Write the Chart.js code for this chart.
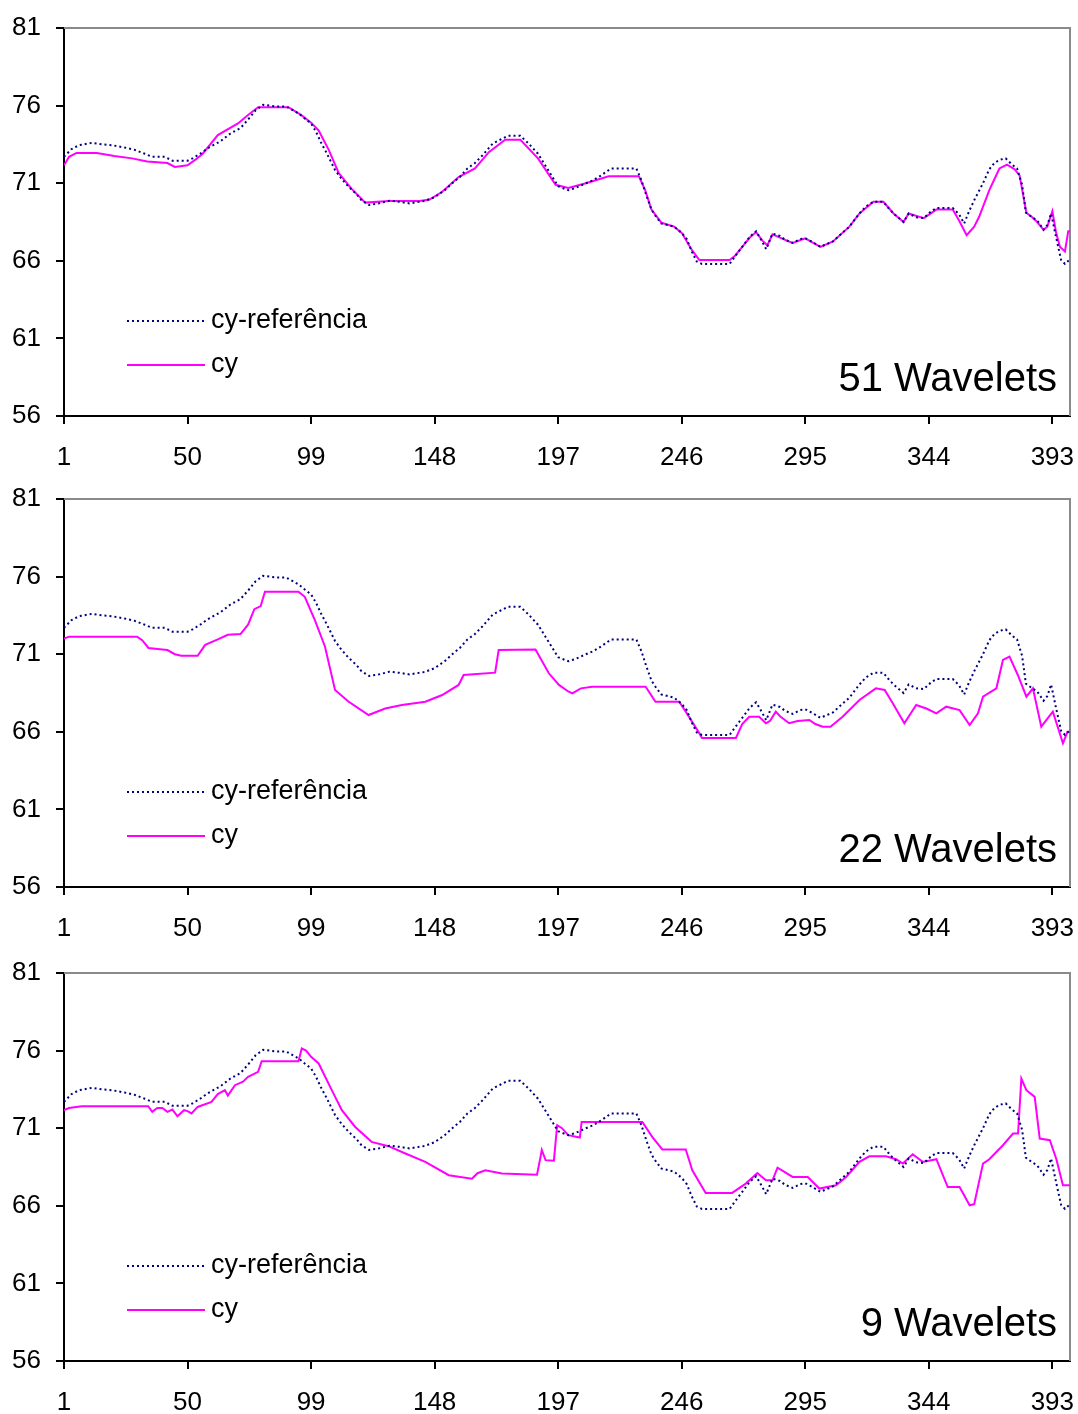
<!DOCTYPE html>
<html><head><meta charset="utf-8">
<script src="https://cdn.jsdelivr.net/npm/chart.js@4.4.1/dist/chart.umd.min.js"></script>
<style>
html,body{margin:0;padding:0;background:#fff;}
body{width:1078px;height:1414px;position:relative;overflow:hidden;}
.panel{position:absolute;left:0;width:1078px;height:469px;}
</style></head><body>
<div class="panel" style="top:0"><canvas id="c1" width="1078" height="469"></canvas></div>
<div class="panel" style="top:471px"><canvas id="c2" width="1078" height="469"></canvas></div>
<div class="panel" style="top:945px"><canvas id="c3" width="1078" height="469"></canvas></div>
<script>
// ---- data ----
const xTicks = [1, 50, 99, 148, 197, 246, 295, 344, 393];
const yTicks = [56, 61, 66, 71, 76, 81];
const seriesNames = ["cy-referência", "cy"];
const panelTitles = ["51 Wavelets", "22 Wavelets", "9 Wavelets"];

const refX = [1,4,7,12,16,20,25,29,33,36,41,44,50,52,55,58,63,67,71,74,77,80,85,89,94,97,99,101,103,105,108.5,111,114,117,119,122,126,130,134,138,144,148,152,155,158,161,164,167,171,174,177,182,185,189,193,197,201,204,208,211,214,218,228,230,232,234,236,238,243,246,248,250,252,254,265,267,270,273,275.5,277,279.5,282,285,287,290,293,295,298,301,306,309,312.5,316.5,319,322,326,328,330,334,336,339,342,345,347,353.5,356,358,360,362,365.5,368,370,372,374.5,377,379,381,382.5,385,387,389.5,391,392.5,394.5,396.5,398,400];
const refY = [72.7,73.2,73.45,73.6,73.5,73.45,73.3,73.15,72.9,72.7,72.7,72.45,72.45,72.6,72.9,73.25,73.7,74.2,74.55,75.1,75.7,76.05,75.95,75.95,75.5,75.1,74.85,74.3,73.6,73.0,71.85,71.3,70.75,70.3,69.9,69.6,69.7,69.87,69.8,69.7,69.85,70.1,70.55,71.0,71.4,71.95,72.3,72.8,73.55,73.8,74.05,74.05,73.6,72.9,71.85,70.8,70.55,70.7,71.0,71.2,71.5,71.95,71.95,71.2,70.2,69.3,68.8,68.4,68.2,67.8,67.4,66.6,65.95,65.8,65.8,66.25,66.9,67.55,67.9,67.5,66.75,67.75,67.6,67.35,67.15,67.4,67.45,67.2,66.9,67.25,67.7,68.2,69.05,69.5,69.8,69.8,69.4,69.05,68.5,69.05,68.8,68.75,69.2,69.4,69.4,69.0,68.4,69.2,69.9,71.0,71.9,72.3,72.5,72.6,72.2,71.95,70.9,69.1,68.8,68.6,68.0,68.3,69.05,67.5,66.05,65.8,66.1];

const cy51X = [1,3,6,14,21,28,34,42,45,50,53,56,62,70,74,78,90,95,99,102,106,110,115,120.5,130,142,146,151,157.5,164,169.5,176,182,189,196,201,208,217,229,231.5,234,238,243,246,250,253,265,267,270,273,275.5,278,280,282,287,290,295,301,306,312.5,316.5,322,326,330,334,336,342,347,353.5,356,359,362,364,368,372,375,378,380,382.7,385,387,389.5,391,393,394.5,396,398,399.3,400];
const cy51Y = [72.15,72.7,72.95,72.95,72.75,72.6,72.4,72.3,72.05,72.15,72.5,72.9,74.1,74.85,75.4,75.9,75.9,75.4,74.9,74.4,73.15,71.65,70.65,69.75,69.85,69.85,69.95,70.45,71.4,71.95,73.0,73.8,73.8,72.6,70.9,70.7,71.0,71.45,71.45,70.55,69.3,68.45,68.2,67.8,66.7,66.05,66.05,66.3,66.9,67.5,67.85,67.3,67.0,67.7,67.35,67.15,67.45,66.9,67.25,68.2,69.05,69.8,69.8,69.05,68.5,69.05,68.75,69.3,69.3,68.6,67.65,68.2,68.85,70.55,71.95,72.2,71.9,71.5,69.1,68.8,68.5,68.0,68.2,69.2,67.8,66.9,66.6,67.9,67.9];

const cy22X = [1,3,30,32,34.5,40,42,45,47.5,54,57,62,66,71,74,76.5,79,80.7,94,96.5,100.5,104.5,108.5,113.8,121.8,128.4,135,144.3,151,157.5,159.5,172,173.4,188,193.3,197.3,201,202.6,206,210.5,231.7,235.6,245,247.6,253,254,267.5,270,272.8,276.7,279.4,281,283.3,285,288.6,292,296.6,299,301.9,305,309.8,316.5,323,326.5,329.7,334.3,339,343,347,350.9,356.2,360.2,363.5,365.5,370.8,373.4,376,379.3,382.7,385.3,388.6,393.2,397.2,399,400];
const cy22Y = [72.0,72.13,72.13,71.9,71.4,71.3,71.27,71.0,70.9,70.9,71.6,71.95,72.25,72.3,72.9,73.9,74.1,75.03,75.03,74.7,73.2,71.5,68.7,67.95,67.08,67.5,67.73,67.94,68.37,69.02,69.66,69.81,71.27,71.3,69.77,69.02,68.6,68.48,68.8,68.9,68.9,67.94,67.94,67.3,65.9,65.6,65.6,66.5,66.97,66.97,66.55,66.7,67.3,67.0,66.55,66.7,66.76,66.5,66.33,66.33,66.97,68.05,68.8,68.7,67.84,66.55,67.73,67.5,67.19,67.62,67.4,66.44,67.19,68.26,68.8,70.63,70.84,69.66,68.26,68.8,66.33,67.3,65.26,66.0,66.0];

const cy9X = [1,3,8,34.4,36,38,40,42,44,46,48.6,50,51.6,54,59.5,62,64.8,66,68.8,72,74,78,79.4,94,95.3,97,99,102,107.2,111.2,116.5,123,129.7,136.4,144.3,153.6,162.8,165,168.1,174.7,188.6,190,190.5,192,195.3,196.6,198.5,201,205.6,206.3,230.4,234.3,238.3,247.6,250.2,255.5,266,271.4,276,279.4,282,284,290,296,300.6,307.2,311.2,316.5,320.4,327,331,333.7,337.6,341.6,347,351.5,356.2,360.2,362,365.5,368,373.4,377.4,379.4,380.7,382.7,386,388,392,394.6,397.2,400];
const cy9Y = [72.16,72.3,72.42,72.42,72.05,72.3,72.3,72.05,72.2,71.77,72.16,72.1,71.95,72.37,72.7,73.2,73.45,73.1,73.77,74.0,74.31,74.63,75.32,75.32,76.14,76.0,75.6,75.17,73.45,72.16,71.08,70.12,69.84,69.37,68.83,67.97,67.75,68.1,68.29,68.08,68.0,69.15,69.6,68.94,68.9,71.19,71.0,70.55,70.4,71.4,71.4,70.44,69.63,69.63,68.29,66.83,66.83,67.43,68.11,67.64,67.64,68.46,67.86,67.86,67.11,67.32,67.86,68.83,69.19,69.19,69.0,68.72,69.32,68.83,69.0,67.21,67.21,66.03,66.1,68.72,69.0,69.9,70.66,70.66,74.2,73.45,73.02,70.33,70.23,69.0,67.32,67.32];

// ---- chart ----
const FONT = '"Liberation Sans", Arial, sans-serif';
Chart.defaults.font.family = FONT;
Chart.defaults.color = '#000';

function pts(xs, ys) { return xs.map((x, i) => ({ x: x, y: ys[i] })); }

const decor = {
  id: 'decor',
  beforeDatasetsDraw(chart) {
    const a = chart.chartArea, ctx = chart.ctx;
    ctx.save();
    ctx.strokeStyle = '#8a8a8a';
    ctx.lineWidth = 2;
    ctx.beginPath();
    ctx.moveTo(a.left, a.top);
    ctx.lineTo(a.right, a.top);
    ctx.lineTo(a.right, a.bottom);
    ctx.stroke();
    ctx.restore();
  },
  afterDatasetsDraw(chart, args, opts) {
    const a = chart.chartArea, ctx = chart.ctx;
    ctx.save();
    chart.data.datasets.forEach((ds, i) => {
      const y = a.top + 293 + i * 44;
      ctx.strokeStyle = ds.borderColor;
      ctx.lineWidth = ds.borderWidth;
      ctx.setLineDash(ds.borderDash || []);
      ctx.beginPath();
      ctx.moveTo(a.left + 63, y);
      ctx.lineTo(a.left + 141, y);
      ctx.stroke();
      ctx.setLineDash([]);
      ctx.fillStyle = '#000';
      ctx.font = '27px ' + FONT;
      ctx.textAlign = 'left';
      ctx.textBaseline = 'middle';
      ctx.fillText(ds.label, a.left + 147, y);
    });
    ctx.font = '40px ' + FONT;
    ctx.textAlign = 'right';
    ctx.textBaseline = 'alphabetic';
    ctx.fillStyle = '#000';
    ctx.fillText(opts.text, a.right - 13, a.top + 363);
    ctx.restore();
  }
};

function makeChart(id, cyX, cyY, title) {
  new Chart(document.getElementById(id), {
    type: 'line',
    data: {
      datasets: [
        { label: seriesNames[0], data: pts(refX, refY), borderColor: '#000080', borderWidth: 2, borderDash: [2, 3], pointRadius: 0, tension: 0, fill: false },
        { label: seriesNames[1], data: pts(cyX, cyY), borderColor: '#ff00ff', borderWidth: 2, pointRadius: 0, tension: 0, fill: false }
      ]
    },
    options: {
      responsive: false,
      animation: false,
      events: [],
      layout: { padding: { top: 28, right: 8, bottom: 0, left: 0 } },
      plugins: { legend: { display: false }, tooltip: { enabled: false }, decor: { text: title } },
      scales: {
        x: {
          type: 'linear', min: 1, max: 400,
          afterBuildTicks: s => { s.ticks = xTicks.map(v => ({ value: v })); },
          afterFit: s => { s.height = 53; s.paddingLeft = 0; s.paddingRight = 0; },
          grid: { drawOnChartArea: false, tickLength: 8, color: '#000', lineWidth: 2 },
          border: { color: '#000', width: 2 },
          ticks: { padding: 18, font: { size: 26 }, color: '#000', maxRotation: 0, autoSkip: false }
        },
        y: {
          min: 56, max: 81,
          afterBuildTicks: s => { s.ticks = yTicks.map(v => ({ value: v })); },
          afterFit: s => { s.width = 64; s.paddingTop = 0; s.paddingBottom = 0; },
          grid: { drawOnChartArea: false, tickLength: 8, color: '#000', lineWidth: 2 },
          border: { color: '#000', width: 2 },
          ticks: { padding: 15, font: { size: 26 }, color: '#000' }
        }
      }
    },
    plugins: [decor]
  });
}

makeChart('c1', cy51X, cy51Y, panelTitles[0]);
makeChart('c2', cy22X, cy22Y, panelTitles[1]);
makeChart('c3', cy9X, cy9Y, panelTitles[2]);
</script>
</body></html>
